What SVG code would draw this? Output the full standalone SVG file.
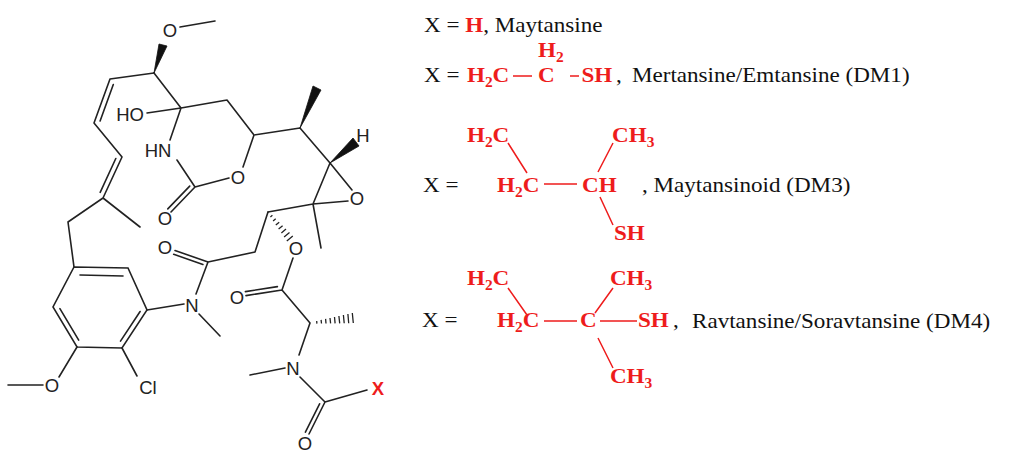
<svg xmlns="http://www.w3.org/2000/svg" width="1010" height="467" viewBox="0 0 1010 467">
<style>
.b{stroke:#222;stroke-width:1.6;fill:none;stroke-linecap:round}
.w{fill:#111;stroke:#111;stroke-width:0.8;stroke-linejoin:round}
.h{stroke:#222;stroke-width:1.3}
.a{font-family:"Liberation Sans",Arial,sans-serif;font-size:18.5px;fill:#222;text-anchor:middle}
.rl{stroke:#ee1c1c;stroke-width:1.5;fill:none}
.t{font-family:"Liberation Serif","Times New Roman",serif;font-size:21px;fill:#111}
.r{fill:#ee1c1c;font-weight:bold}
.s{font-size:14px}
</style>
<rect width="1010" height="467" fill="#fff"/>
<g id="structure">
<g id="bonds">
<path class="b" d="M180,27L215,21 M154,73L110,79 M110,79L94,123 M113.3,84.5L100.1,120.9 M94,123L122,157 M122,157L103,198 M115.8,158.5L100.2,192.3 M103,198L140,227 M103,198L68,222 M68,222L74,267"/>
<path class="b" d="M74,267L128,268L147,310L122,348L77,347L53,307Z M80,275L123,276 M59.9,308.7L78.7,340.1 M140.1,311.5L120.5,341.1"/>
<path class="b" d="M77,347L59,377 M8,385L43,385 M122,348L137,376 M147,310L184,304 M199,314L220,336 M196,294L208,262 M208,262L175,250.5 M202.9,264.5L173.7,254.3 M208,262L255,252 M255,252L268,212"/>
<path class="b" d="M268,212L313,204 M313,204L321,248 M313,204L330,163 M313,204L348,201 M330,163L352,190 M330,163L300,128 M300,128L254,135 M254,135L227,100 M227,100L181,108 M181,108L154,73 M147,113L181,108 M181,108L170,140 M177,160L195,187 M195,187L171,212 M189.7,186.1L167.8,208.9 M195,187L229,178 M243,167L254,135"/>
<path class="b" d="M293,258L282,290 M282,290L246,295.6 M277.4,286.6L245.4,291.6 M282,290L310,323 M310,323L299,355 M285,368L250,375 M300,377L325,402 M325,402L367,390 M325,402L309,434 M319.6,403.8L305.4,432.2"/>
<polygon class="w" points="154,73 167,46 159,44"/>
<polygon class="w" points="300,128 321,90 313,86"/>
<polygon class="w" points="330,163 359,146 353,138"/>
<path class="h" d="M270.4,216.9L272.4,215.3 M273.1,220.9L275.7,218.7 M275.8,225L279.2,222.2 M278.6,229L282.6,225.7 M281.4,232.9L286,229.1 M284.1,237L289.5,232.6 M286.8,241L292.8,236"/>
<path class="h" d="M316.7,321L316.9,323.6 M321.1,319.9L321.5,323.5 M325.6,318.9L326,323.5 M330,318L330.6,323.4 M334.5,317L335.1,323.4 M338.9,316L339.7,323.4 M343.4,315L344.2,323.3 M347.9,314L348.7,323.2 M352.3,313L353.3,323"/>
</g>
<g id="atoms">
<text class="a" x="170" y="36.5">O</text>
<text class="a" x="130" y="120.5">HO</text>
<text class="a" x="158" y="156.5">HN</text>
<text class="a" x="238" y="183.5">O</text>
<text class="a" x="165" y="224.5">O</text>
<text class="a" x="363" y="141.5">H</text>
<text class="a" x="357" y="204.5">O</text>
<text class="a" x="165" y="253.5">O</text>
<text class="a" x="192" y="311.5">N</text>
<text class="a" x="296" y="254.5">O</text>
<text class="a" x="237" y="303.5">O</text>
<text class="a" x="52" y="391.5">O</text>
<text class="a" x="148" y="393.5">Cl</text>
<text class="a" x="293" y="374.5">N</text>
<text class="a" x="378" y="394.5" style="fill:#ee1c1c;font-weight:bold">X</text>
<text class="a" x="305" y="449.5">O</text>
</g>
</g>
<g id="legend">
<g id="legend-bonds">
<path class="rl" d="M513,76L532,76 M570,76L579,76"/>
<path class="rl" d="M544,184L577,184 M508,143L527,173 M613,143L598,172 M600,197L613,225"/>
<path class="rl" d="M544,321L577,321 M600,321L637,321 M508,288L527,315 M613,288L595,313 M598,338L613,368"/>
</g>
<g transform="scale(1.1,1)">
<text class="t" x="385.5" y="32">X = <tspan class="r">H</tspan>, Maytansine</text>
<text class="t" x="385.5" y="82">X =</text>
<text class="t r" x="424.5" y="82">H<tspan class="s" dy="5">2</tspan><tspan dy="-5">C</tspan></text>
<text class="t r" x="489.1" y="82">C</text>
<text class="t r" x="489.1" y="57">H<tspan class="s" dy="5">2</tspan></text>
<text class="t r" x="528.6" y="82">SH</text>
<text class="t" x="560" y="82">,</text>
<text class="t" x="574.5" y="82">Mertansine/Emtansine (DM1)</text>

<text class="t r" x="424.5" y="142">H<tspan class="s" dy="5">2</tspan><tspan dy="-5">C</tspan></text>
<text class="t r" x="556.4" y="142">CH<tspan class="s" dy="5">3</tspan></text>
<text class="t" x="384.5" y="192">X =</text>
<text class="t r" x="451.8" y="192">H<tspan class="s" dy="5">2</tspan><tspan dy="-5">C</tspan></text>
<text class="t r" x="529.1" y="192">CH</text>
<text class="t" x="583.6" y="192">, Maytansinoid (DM3)</text>
<text class="t r" x="558.2" y="240">SH</text>

<text class="t r" x="424.5" y="285">H<tspan class="s" dy="5">2</tspan><tspan dy="-5">C</tspan></text>
<text class="t r" x="554.5" y="285">CH<tspan class="s" dy="5">3</tspan></text>
<text class="t" x="383.6" y="327">X =</text>
<text class="t r" x="451.8" y="327">H<tspan class="s" dy="5">2</tspan><tspan dy="-5">C</tspan></text>
<text class="t r" x="527.3" y="327">C</text>
<text class="t r" x="580" y="327">SH</text>
<text class="t" x="611.8" y="327">,</text>
<text class="t" x="629.1" y="328">Ravtansine/Soravtansine (DM4)</text>
<text class="t r" x="554.5" y="383">CH<tspan class="s" dy="5">3</tspan></text>
</g>
</g>
</svg>
